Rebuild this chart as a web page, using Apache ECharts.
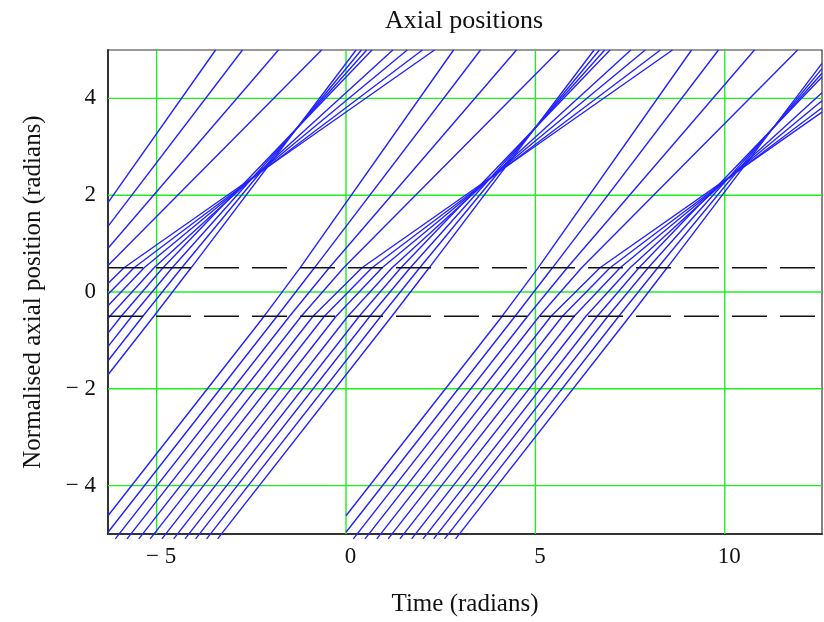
<!DOCTYPE html>
<html>
<head>
<meta charset="utf-8">
<script src="https://cdn.jsdelivr.net/npm/echarts@6/dist/echarts.min.js"></script>
<style>
  html, body { margin: 0; background: #fff; }
  #main { width: 824px; height: 622px; }
</style>
</head>
<body>
<div id="main"></div>
<script>
var TWO_PI = 2 * Math.PI;

// one bunch of electrons (times in radians)
// time each electron reaches the gap entrance z = -0.5
var entryTimes = [-2.16, -1.82, -1.49, -1.18, -0.87, -0.57, -0.26, 0.05, 0.35, 0.63, 0.92, 1.21];
// time each electron reaches the top of the plot z = 5
var topTimes = [2.84, 3.55, 4.50, 5.64, 8.62, 8.30, 7.90, 7.52, 6.97, 6.83, 6.69, 6.55];
// the same bunch repeats every cycle, each one drawn from its own start time
var bunchShifts = [-TWO_PI, 0, TWO_PI];
var bunchStarts = [-2 * TWO_PI, -TWO_PI, 0];
var gapEdges = [-0.5, 0.5];
var xTicks = [-5, 0, 5, 10];
var yTicks = [-4, -2, 0, 2, 4];

var X_MIN = -TWO_PI, X_MAX = 2 * TWO_PI;
var Y_MIN = -5, Y_MAX = 5;
var Y_LOW = -5.1; // lines run a hair below the frame in the original

// Liang-Barsky clip of a polyline to a box
function clipLine(pts, t0, t1, z0, z1) {
  var out = [];
  for (var i = 0; i < pts.length - 1; i++) {
    var p = pts[i], q = pts[i + 1];
    var dt = q[0] - p[0], dz = q[1] - p[1];
    var P = [-dt, dt, -dz, dz];
    var Q = [p[0] - t0, t1 - p[0], p[1] - z0, z1 - p[1]];
    var u0 = 0, u1 = 1, ok = true;
    for (var k = 0; k < 4; k++) {
      if (P[k] === 0) {
        if (Q[k] < 0) { ok = false; break; }
      } else {
        var r = Q[k] / P[k];
        if (P[k] < 0) { if (r > u1) { ok = false; break; } if (r > u0) u0 = r; }
        else { if (r < u0) { ok = false; break; } if (r < u1) u1 = r; }
      }
    }
    if (!ok || u0 > u1) continue;
    var a = [p[0] + u0 * dt, p[1] + u0 * dz];
    var b = [p[0] + u1 * dt, p[1] + u1 * dz];
    if (!out.length) out.push(a);
    out.push(b);
  }
  return out;
}

// time at the gap exit: the speed ramps from 1 to its final value across the gap
function exitTime(te, tTop) {
  var gap = gapEdges[1] - gapEdges[0];
  var tx = te + gap;
  for (var i = 0; i < 8; i++) {
    var v = (Y_MAX - gapEdges[1]) / (tTop - tx);
    tx = te + gap * 2 / (1 + v);
  }
  return tx;
}

var series = [];

// green grid, drawn under everything
var gridStyle = { color: '#1ef01e', width: 1.4 };
xTicks.forEach(function (v) {
  series.push({
    type: 'line', data: [[v, Y_MIN], [v, Y_MAX]],
    showSymbol: false, silent: true, z: 1, lineStyle: gridStyle
  });
});
yTicks.forEach(function (v) {
  series.push({
    type: 'line', data: [[X_MIN, v], [X_MAX, v]],
    showSymbol: false, silent: true, z: 1, lineStyle: gridStyle
  });
});

bunchShifts.forEach(function (shift, g) {
  entryTimes.forEach(function (te0, j) {
    var te = te0 + shift;
    var tTop = topTimes[j] + shift;
    var tx = exitTime(te, tTop);
    var pts = [
      [te - (gapEdges[0] - Y_LOW), Y_LOW],
      [te, gapEdges[0]],
      [tx, gapEdges[1]],
      [tTop, Y_MAX]
    ];
    series.push({
      type: 'line',
      data: clipLine(pts, Math.max(bunchStarts[g], X_MIN), X_MAX, Y_LOW, Y_MAX),
      showSymbol: false,
      clip: false,
      silent: true,
      z: 3,
      lineStyle: { color: '#2222ff', width: 1.4 }
    });
  });
});

gapEdges.forEach(function (e) {
  series.push({
    type: 'line',
    data: [[X_MIN, e], [X_MAX, e]],
    showSymbol: false,
    silent: true,
    z: 4,
    lineStyle: { color: '#111', width: 1.6, type: [35, 13] }
  });
});

function tickText(v) {
  return v < 0 ? '\u2212 ' + Math.abs(v) : String(v);
}

var serif = 'Liberation Serif';
var myChart = echarts.init(document.getElementById('main'));
myChart.setOption({
  animation: false,
  title: {
    text: 'Axial positions',
    left: 459,
    top: 3,
    textAlign: 'center',
    textStyle: { fontFamily: serif, fontSize: 26, fontWeight: 'normal', color: '#111' }
  },
  grid: {
    left: 108, right: 2, top: 50, bottom: 88,
    show: true, borderColor: '#333', borderWidth: 1.2
  },
  xAxis: {
    type: 'value',
    min: X_MIN, max: X_MAX,
    name: 'Time (radians)',
    nameLocation: 'middle',
    nameGap: 58,
    nameTextStyle: { fontFamily: serif, fontSize: 25, color: '#111' },
    axisLine: { show: true, onZero: false, lineStyle: { color: '#333', width: 2 } },
    axisTick: { show: false },
    axisLabel: {
      customValues: xTicks,
      formatter: tickText,
      fontFamily: serif, fontSize: 23, color: '#111',
      margin: 11, padding: [0, 0, 0, 9]
    },
    splitLine: { show: false }
  },
  yAxis: {
    type: 'value',
    min: Y_MIN, max: Y_MAX,
    name: 'Normalised axial position (radians)',
    nameLocation: 'middle',
    nameGap: 62,
    nameTextStyle: { fontFamily: serif, fontSize: 25, color: '#111' },
    axisLine: { show: true, onZero: false, lineStyle: { color: '#333', width: 2 } },
    axisTick: { show: false },
    axisLabel: {
      customValues: yTicks,
      formatter: tickText,
      fontFamily: serif, fontSize: 23, color: '#111',
      margin: 12
    },
    splitLine: { show: false }
  },
  series: series
});
</script>
</body>
</html>
